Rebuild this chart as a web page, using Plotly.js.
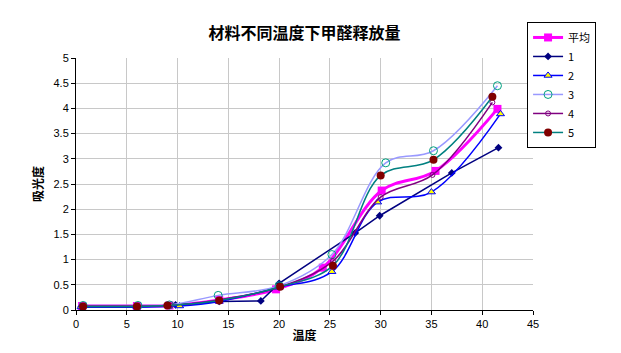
<!DOCTYPE html>
<html><head><meta charset="utf-8">
<script src="https://cdn.plot.ly/plotly-3.0.1.min.js"></script>
<style>html,body{margin:0;padding:0;background:#fff}#chart{width:621px;height:353px}</style>
</head><body><div id="chart"></div>
<script>
const seriesNames = ['平均','1','2','3','4','5'];
const xAvg = [0.6, 6.0, 9.2, 14.1, 19.7, 24.3, 30.1, 35.4, 41.5];
const yAvg = [0.08, 0.08, 0.09, 0.2, 0.41, 0.84, 2.37, 2.76, 3.99];
const x1 = [0.5, 6.0, 9.8, 14.1, 18.2, 20.0, 27.5, 29.9, 37.0, 41.6];
const y1 = [0.06, 0.06, 0.1, 0.17, 0.18, 0.53, 1.53, 1.87, 2.72, 3.22];
const x2 = [0.5, 6.0, 10.2, 14.1, 20.0, 25.2, 29.7, 35.0, 41.8];
const y2 = [0.06, 0.06, 0.08, 0.17, 0.45, 0.76, 2.14, 2.34, 3.89];
const x3 = [0.7, 6.1, 9.2, 14.0, 20.0, 25.2, 30.5, 35.2, 41.5];
const y3 = [0.09, 0.09, 0.1, 0.29, 0.48, 1.1, 2.92, 3.16, 4.45];
const x4 = [0.6, 6.0, 9.3, 14.1, 20.0, 25.3, 30.0, 35.1, 41.0];
const y4 = [0.08, 0.08, 0.09, 0.2, 0.45, 0.97, 2.24, 2.68, 4.12];
const x5 = [0.7, 6.0, 9.0, 14.1, 20.1, 25.3, 30.0, 35.2, 41.0];
const y5 = [0.07, 0.07, 0.09, 0.19, 0.46, 0.88, 2.67, 2.98, 4.23];

const traces = [
  {x:xAvg, y:yAvg, name:seriesNames[0], mode:'lines+markers',
   line:{color:'#ff00ff', width:3, shape:'spline', smoothing:1},
   marker:{symbol:'square', size:8, color:'#ff00ff'}},
  {x:x1, y:y1, name:seriesNames[1], mode:'lines+markers',
   line:{color:'#000080', width:1.5},
   marker:{symbol:'diamond', size:6, color:'#000080'}},
  {x:x2, y:y2, name:seriesNames[2], mode:'lines+markers',
   line:{color:'#0000ff', width:1.5, shape:'spline', smoothing:1},
   marker:{symbol:'triangle-up', size:7, color:'#ffff00', line:{color:'#0000ff', width:1}}},
  {x:x3, y:y3, name:seriesNames[3], mode:'lines+markers',
   line:{color:'#9999ff', width:1.5, shape:'spline', smoothing:1},
   marker:{symbol:'circle-open', size:8, color:'#00a080', line:{width:1}}},
  {x:x4, y:y4, name:seriesNames[4], mode:'lines+markers',
   line:{color:'#800080', width:1.5, shape:'spline', smoothing:1},
   marker:{symbol:'circle-open', size:5, color:'#800080', line:{width:1}}},
  {x:x5, y:y5, name:seriesNames[5], mode:'lines+markers',
   line:{color:'#008080', width:1.5, shape:'spline', smoothing:1},
   marker:{symbol:'circle', size:8, color:'#800000'}}
];

const layout = {
  width:621, height:353,
  margin:{l:76, r:88, t:58, b:43, autoexpand:false},
  paper_bgcolor:'#ffffff', plot_bgcolor:'#ffffff',
  font:{family:'Liberation Sans, Arial, sans-serif', size:11, color:'#000'},
  title:{text:'<b>材料不同温度下甲醛释放量</b>', x:0.5, xref:'paper', y:0.905, yanchor:'middle',
         font:{family:'Noto Sans CJK SC, sans-serif', size:16, color:'#000'}},
  xaxis:{range:[0,45], dtick:5, tick0:0, showgrid:true, gridcolor:'#c8c8c8', gridwidth:1,
         showline:true, linecolor:'#000', linewidth:1, ticks:'outside', ticklen:4, tickcolor:'#000',
         zeroline:false, tickfont:{size:11},
         title:{text:'<b>温度</b>', standoff:2, font:{family:'Noto Sans CJK SC, sans-serif', size:12}}},
  yaxis:{range:[0,5], dtick:0.5, tick0:0, showgrid:true, gridcolor:'#c8c8c8', gridwidth:1,
         showline:true, linecolor:'#000', linewidth:1, ticks:'outside', ticklen:4, tickcolor:'#000',
         zeroline:false, tickfont:{size:11},
         title:{text:'<b>吸光度</b>', standoff:7, font:{family:'Noto Sans CJK SC, sans-serif', size:12}}},
  legend:{x:0.987, xanchor:'left', y:1.143, yanchor:'top', bordercolor:'#000', borderwidth:1,
          bgcolor:'#fff', font:{family:'Noto Sans CJK SC, Liberation Sans, sans-serif', size:11},
          tracegroupgap:0, itemwidth:30, entrywidth:61, entrywidthmode:'pixels'},
  showlegend:true
};
Plotly.newPlot('chart', traces, layout, {displayModeBar:false, staticPlot:true});
</script></body></html>
